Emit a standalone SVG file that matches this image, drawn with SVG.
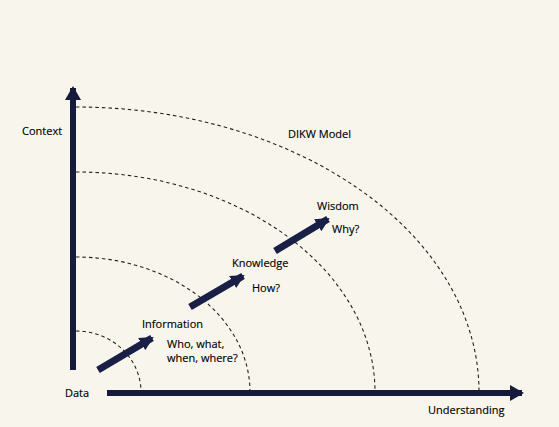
<svg xmlns="http://www.w3.org/2000/svg" width="559" height="427" viewBox="0 0 559 427">
<style>
.t{font-family:"Open Sans","Liberation Sans",sans-serif;font-size:11px;fill:#000;stroke:#000;stroke-width:0.15}
.arc{fill:none;stroke:#222;stroke-width:1.1;stroke-dasharray:3.5,3}
.ax{stroke:#161a3c;stroke-width:6}
.ar{stroke:#1a1f45;stroke-width:7}
</style>
<defs>
<marker id="ah" markerUnits="userSpaceOnUse" markerWidth="16" markerHeight="16" refX="12" refY="8" orient="auto" viewBox="0 0 16 16">
<path d="M0,0 L14,8 L0,16 Z" fill="#161a3c"/>
</marker>
<marker id="sh" markerUnits="userSpaceOnUse" markerWidth="16" markerHeight="16" refX="12" refY="7" orient="auto" viewBox="0 0 16 14">
<path d="M0,0 L14,7 L0,14 Z" fill="#1a1f45"/>
</marker>
</defs>
<rect width="559" height="427" fill="#f8f5ec"/>
<g id="arcs">
<path class="arc" d="M76,331 A65 61 0 0 1 141 392"/>
<path class="arc" d="M76,257 A174 135 0 0 1 250 392"/>
<path class="arc" d="M76,172 A299 220 0 0 1 375 392"/>
<path class="arc" d="M76,107 A403 285 0 0 1 479 392"/>
</g>
<g id="axes">
<line class="ax" x1="73" y1="370" x2="73" y2="88" marker-end="url(#ah)"/>
<line class="ax" x1="107" y1="393" x2="522" y2="393" marker-end="url(#ah)"/>
</g>
<g id="connectors">
<line class="ar" x1="98" y1="370" x2="152" y2="338" marker-end="url(#sh)"/>
<line class="ar" x1="190" y1="307" x2="243" y2="276" marker-end="url(#sh)"/>
<line class="ar" x1="275" y1="251" x2="328" y2="219" marker-end="url(#sh)"/>
</g>
<g id="labels">
<text class="t" x="22" y="135">Context</text>
<text class="t" x="65" y="397">Data</text>
<text class="t" x="428" y="414">Understanding</text>
<text class="t" x="288" y="138">DIKW Model</text>
</g>
<g id="wisdom"><text class="t" x="317" y="210">Wisdom</text><text class="t" x="332" y="233">Why?</text></g>
<g id="knowledge"><text class="t" x="232" y="267">Knowledge</text><text class="t" x="252" y="292">How?</text></g>
<g id="information"><text class="t" x="142" y="328">Information</text><text class="t" x="167" y="348">Who, what,</text><text class="t" x="167" y="362">when, where?</text></g>
</svg>
